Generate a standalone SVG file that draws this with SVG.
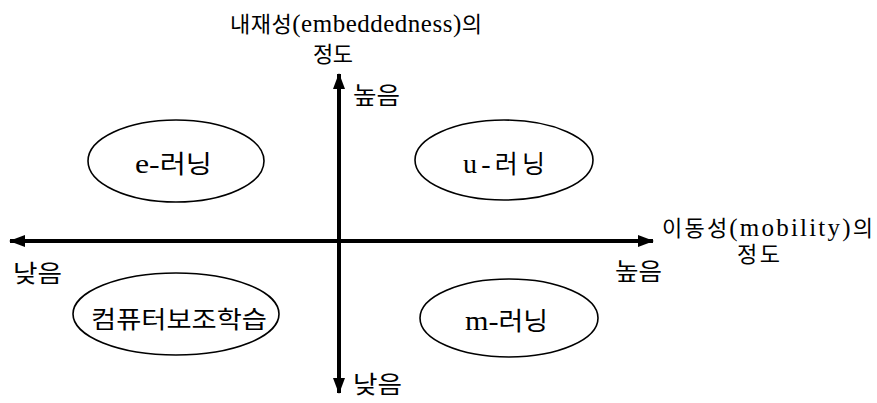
<svg xmlns="http://www.w3.org/2000/svg" width="877" height="403" viewBox="0 0 877 403">
<style>
text{font-family:"Liberation Serif","Noto Sans CJK KR",serif;font-size:24px;fill:#000}
.lbl{font-size:22px}
.lat{font-size:25px}
.nl{font-size:25px}
.nl .lat{font-size:28px}
.node ellipse{fill:#fff;stroke:#000;stroke-width:1.6}
.axis{stroke:#000;stroke-width:4;fill:none}
</style>
<defs>
<marker id="ah" viewBox="0 0 16 12" refX="15" refY="6" markerWidth="16" markerHeight="12" markerUnits="userSpaceOnUse" orient="auto">
<path d="M0,0 L16,6 L0,12 Z" fill="#000"/>
</marker>
</defs>
<rect width="877" height="403" fill="#fff"/>
<g id="connectors">
<line class="axis" x1="340" y1="241" x2="10" y2="241" marker-end="url(#ah)"/>
<line class="axis" x1="340" y1="241" x2="653" y2="241" marker-end="url(#ah)"/>
<line class="axis" x1="339" y1="241" x2="339" y2="74" marker-end="url(#ah)"/>
<line class="axis" x1="339" y1="241" x2="339" y2="393" marker-end="url(#ah)"/>
</g>
<g id="axis-labels">
<text class="lbl" x="230" y="32" textLength="252" lengthAdjust="spacing">내재성<tspan class="lat">(embeddedness)</tspan>의</text>
<text class="lbl" x="313" y="62" textLength="40" lengthAdjust="spacing">정도</text>
<text x="353" y="104" textLength="47" lengthAdjust="spacingAndGlyphs">높음</text>
<text class="lbl" x="662" y="236" textLength="211" lengthAdjust="spacing">이동성<tspan class="lat">(mobility)</tspan>의</text>
<text class="lbl" x="737" y="262" textLength="43" lengthAdjust="spacing">정도</text>
<text x="615" y="280" textLength="47" lengthAdjust="spacingAndGlyphs">높음</text>
<text x="13" y="282" textLength="49" lengthAdjust="spacingAndGlyphs">낮음</text>
<text x="353" y="393" textLength="49" lengthAdjust="spacingAndGlyphs">낮음</text>
</g>
<g id="node-e" class="node">
<ellipse cx="176" cy="161" rx="88" ry="41"/>
<text class="nl" x="135" y="173" textLength="77" lengthAdjust="spacingAndGlyphs"><tspan class="lat">e-</tspan>러닝</text>
</g>
<g id="node-u" class="node">
<ellipse cx="504" cy="160" rx="89" ry="40"/>
<text class="nl" x="463" y="173" textLength="82" lengthAdjust="spacing"><tspan class="lat">u-</tspan>러닝</text>
</g>
<g id="node-cal" class="node">
<ellipse cx="176" cy="314" rx="103" ry="41"/>
<text x="91" y="328" textLength="176" lengthAdjust="spacingAndGlyphs">컴퓨터보조학습</text>
</g>
<g id="node-m" class="node">
<ellipse cx="509" cy="318" rx="89" ry="39"/>
<text class="nl" x="465" y="330" textLength="83" lengthAdjust="spacingAndGlyphs"><tspan class="lat">m-</tspan>러닝</text>
</g>
</svg>
